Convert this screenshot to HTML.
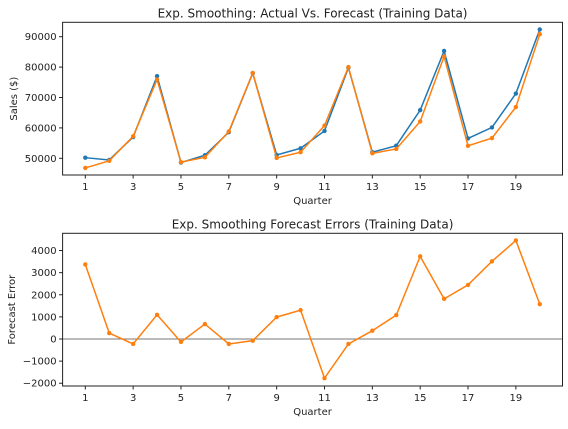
<!DOCTYPE html>
<html><head><meta charset="utf-8"><style>
body{margin:0;background:#fff}
svg text{font-family:"DejaVu Sans","Liberation Sans",sans-serif;fill:#222}
</style></head><body>
<svg id="c" width="568" height="424" xmlns="http://www.w3.org/2000/svg"></svg>
<script>
const quarters=[1,2,3,4,5,6,7,8,9,10,11,12,13,14,15,16,17,18,19,20];
const actualSales=[50200,49450,57000,77000,48600,51000,58600,78000,51100,53300,59000,79800,52000,54150,65850,85300,56550,60150,71300,92400];
const forecastSales=[46830,49180,57225,75905,48735,50325,58825,78075,50110,51995,60770,80025,51625,53070,62115,83485,54105,56640,66845,90825];
const forecastErrors=[3370,270,-225,1095,-135,675,-225,-75,990,1305,-1770,-225,375,1080,3735,1815,2445,3510,4455,1575];
const xTicks=[1,3,5,7,9,11,13,15,17,19];
const topYTicks=[50000,60000,70000,80000,90000];
const botYTicks=[-2000,-1000,0,1000,2000,3000,4000];

const svg=document.getElementById('c');
const NS='http://www.w3.org/2000/svg';
function mk(tag,attrs,parent){const e=document.createElementNS(NS,tag);for(const k in attrs)e.setAttribute(k,attrs[k]);(parent||svg).appendChild(e);return e;}
const L=62.6,R=562.5;
const xs=q=>85.3+(q-1)*23.92;

function panel(name,top,bottom,yOf,yTicks,title,ylabel,series,zero){
  const g=mk('g',{});
  
  
  if(zero){const z=mk('line',{x1:L,x2:R,y1:yOf(0),y2:yOf(0),stroke:'#777','stroke-width':1},g);
    }
  series.forEach(s=>{
    const pts=quarters.map((q,i)=>xs(q).toFixed(2)+','+yOf(s.vals[i]).toFixed(2)).join(' ');
    const pl=mk('polyline',{points:pts,fill:'none',stroke:s.color,'stroke-width':1.5},g);
    
    quarters.forEach((q,i)=>{const c=mk('circle',{cx:xs(q),cy:yOf(s.vals[i]),r:2.2,fill:s.color},g);
      });
  });
  const fr=mk('rect',{x:L,y:top,width:R-L,height:bottom-top,fill:'none',stroke:'#222','stroke-width':1},g);
  
  xTicks.forEach(t=>{mk('line',{x1:xs(t),x2:xs(t),y1:bottom,y2:bottom+3.5,stroke:'#222'},g);
    const tx=mk('text',{x:xs(t),y:bottom+15,'text-anchor':'middle','font-size':10},g);tx.textContent=t;
    });
  yTicks.forEach(t=>{mk('line',{x1:L-3.5,x2:L,y1:yOf(t),y2:yOf(t),stroke:'#222'},g);
    const tx=mk('text',{x:L-6,y:yOf(t)+3.5,'text-anchor':'end','font-size':10},g);tx.textContent=String(t).replace('-','\u2212');
    });
  const tt=mk('text',{x:(L+R)/2,y:top-5,'text-anchor':'middle','font-size':12},g);tt.textContent=title;
  
  const xl=mk('text',{x:(L+R)/2,y:bottom+29,'text-anchor':'middle','font-size':10},g);xl.textContent='Quarter';
  
  const cy=(top+bottom)/2;
  const yl=mk('text',{x:0,y:0,'text-anchor':'middle','font-size':10,transform:`translate(${name==='top-panel'?17:15},${cy}) rotate(-90)`},g);yl.textContent=ylabel;
  
}
panel('top-panel',22.3,175,v=>158.3-(v-50000)*30.4/10000,topYTicks,'Exp. Smoothing: Actual Vs. Forecast (Training Data)','Sales ($)',
  [{name:'actual',vals:actualSales,color:'#1f77b4'},{name:'forecast',vals:forecastSales,color:'#ff7f0e'}],false);
panel('bottom-panel',233.3,386,v=>339-v*22.12/1000,botYTicks,'Exp. Smoothing Forecast Errors (Training Data)','Forecast Error',
  [{name:'error',vals:forecastErrors,color:'#ff7f0e'}],true);
</script>
</body></html>
